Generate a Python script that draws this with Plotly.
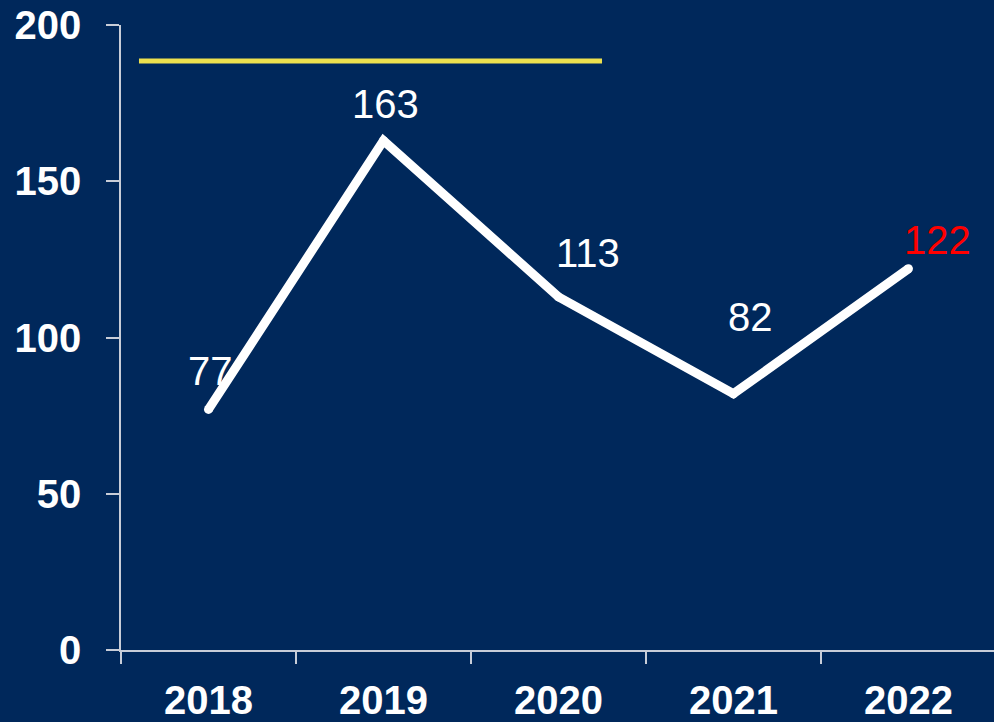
import plotly.graph_objects as go

years = ["2018", "2019", "2020", "2021", "2022"]
values = [77, 163, 113, 82, 122]
label_colors = ["white", "white", "white", "white", "#FF0000"]
# label offsets in pixels (dx, dy) relative to each point
label_dx = [2, 2, 30, 17, 29]
label_dy = [38, 37, 44, 77, 29]
y_ticks = [0, 50, 100, 150, 200]
ref_value = 188.5

BG = "#00285B"
AXIS = "#C8CDD8"
FONT = "Liberation Sans, Arial, sans-serif"

fig = go.Figure()
fig.add_trace(go.Scatter(
    x=years, y=values, mode="lines+markers",
    line=dict(color="white", width=9),
    marker=dict(color="white", size=9),
    hoverinfo="skip", showlegend=False,
))

annotations = []
for i, (v, c, dx, dy) in enumerate(zip(values, label_colors, label_dx, label_dy)):
    annotations.append(dict(x=i, y=v, xref="x", yref="y", text=str(v), showarrow=False,
                            xshift=dx, yshift=dy,
                            font=dict(family=FONT, size=40, color=c)))

fig.add_shape(type="line", xref="paper", yref="y",
              x0=0.0206, x1=0.551, y0=ref_value, y1=ref_value,
              line=dict(color="#EDE04E", width=5))

fig.update_layout(
    width=994, height=722,
    margin=dict(l=121, r=0, t=25, b=72),
    paper_bgcolor=BG, plot_bgcolor=BG,
    font=dict(family=FONT, color="white"),
    annotations=annotations,
    xaxis=dict(
        type="category", range=[-0.5, 4.489], automargin=False,
        showgrid=False, zeroline=False,
        showline=True, linecolor=AXIS, linewidth=1.5,
        ticks="outside", tickson="boundaries", ticklen=12, tickcolor=AXIS, tickwidth=1.5,
        tickfont=dict(family=FONT, size=40, color="white", weight="bold"),
        ticklabelstandoff=14,
    ),
    yaxis=dict(
        range=[0, 200], tickvals=y_ticks, automargin=False,
        showgrid=False, zeroline=False,
        showline=True, linecolor=AXIS, linewidth=1.5,
        ticks="outside", ticklen=13, tickcolor=AXIS, tickwidth=1.5,
        tickfont=dict(family=FONT, size=40, color="white", weight="bold"),
        ticklabelstandoff=17,
    ),
)

fig.write_html("out.html", config={"displayModeBar": False},
               post_script="document.body.style.margin='0';document.body.style.overflow='hidden';")
